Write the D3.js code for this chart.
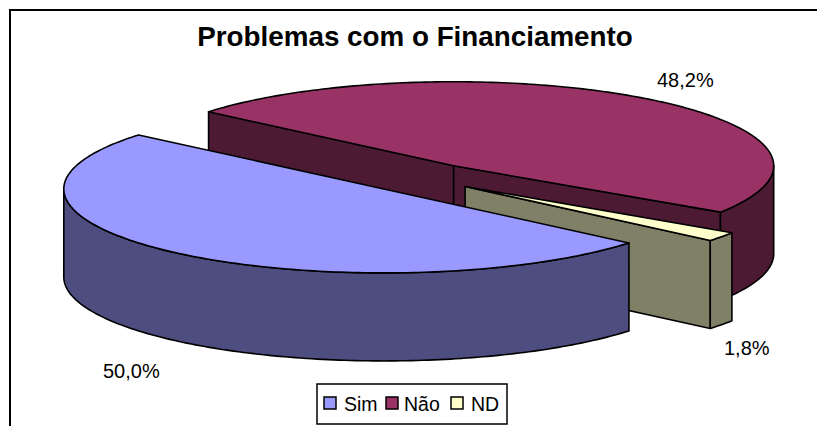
<!DOCTYPE html>
<html>
<head>
<meta charset="utf-8">
<script src="https://cdn.jsdelivr.net/npm/d3@7/dist/d3.min.js"></script>
<style>html,body{margin:0;padding:0;background:#fff}svg{display:block}text{font-family:"Liberation Sans",Arial,sans-serif;fill:#000}</style>
</head>
<body>
<svg id="c" width="817" height="426"></svg>
<script>
const titleText = "Problemas com o Financiamento";
const categories = ["Sim", "Não", "ND"];
const values = [50.0, 48.2, 1.8];
const topColors = ["#9999FF", "#993366", "#FFFFCC"];
const sideColors = ["#4D4D80", "#4D1A33", "#808066"];

const W = 817, H = 426;
const rx = 320, ry = 84, depth = 88, explode = 0.176;
const pieCx = 420, pieCy = 177.6;
const deg = Math.PI / 180;

const svg = d3.select("#c");
const sx = d3.scaleLinear().domain([-1, 1]).range([-rx, rx]);
const sy = d3.scaleLinear().domain([-1, 1]).range([-ry, ry]);

// chart frame: only the top and left edges are visible in the crop
svg.append("line").attr("x1", 9).attr("x2", W).attr("y1", 10).attr("y2", 10).attr("stroke", "#000").attr("stroke-width", 2);
svg.append("line").attr("x1", 10).attr("x2", 10).attr("y1", 10).attr("y2", H).attr("stroke", "#000").attr("stroke-width", 2);

const arcs = d3.pie().sort(null).startAngle(130 * deg).endAngle(490 * deg)(values);
const line = d3.line();
const rim = (cx, cy, a, dz = 0) => [cx + sx(Math.sin(a)), cy + sy(-Math.cos(a)) + dz];
const sample = (a0, a1) => {
  const n = Math.max(2, Math.ceil(Math.abs(a1 - a0) / (1 * deg)));
  return d3.range(n + 1).map(i => a0 + (a1 - a0) * i / n);
};

const slices = arcs.map((d, i) => {
  const mid = (d.startAngle + d.endAngle) / 2;
  return {
    i, a0: d.startAngle, a1: d.endAngle,
    cx: pieCx + sx(Math.sin(mid)) * explode,
    cy: pieCy + sy(-Math.cos(mid)) * explode
  };
});

const stroke = g => g.attr("stroke", "#000").attr("stroke-width", 1.6).attr("stroke-linejoin", "round");

function drawSlice(s) {
  const g = svg.append("g");
  const { cx, cy, a0, a1, i } = s;
  const quad = a => {
    const p = rim(cx, cy, a);
    return [[cx, cy], p, [p[0], p[1] + depth], [cx, cy + depth]];
  };
  // cut faces are drawn only when their outward normal points down the screen
  const faces = [];
  if (-Math.cos(a0 - Math.PI / 2) > 0) faces.push(quad(a0));
  if (-Math.cos(a1 + Math.PI / 2) > 0) faces.push(quad(a1));
  faces.forEach(f => g.append("path").attr("d", line(f) + "Z").attr("fill", sideColors[i]).call(stroke));
  // outer wall: parts of the rim on the front half (90°..270°, modulo 360°)
  [[90, 270], [450, 630]].forEach(([lo, hi]) => {
    const b0 = Math.max(a0, lo * deg), b1 = Math.min(a1, hi * deg);
    if (b1 <= b0) return;
    const as = sample(b0, b1);
    const pts = as.map(a => rim(cx, cy, a)).concat(as.slice().reverse().map(a => rim(cx, cy, a, depth)));
    g.append("path").attr("d", line(pts) + "Z").attr("fill", sideColors[i]).call(stroke);
  });
  // top face
  const top = [[cx, cy]].concat(sample(a0, a1).map(a => rim(cx, cy, a)));
  g.append("path").attr("d", line(top) + "Z").attr("fill", topColors[i]).call(stroke);
}

// paint back to front: Não, ND, Sim
[1, 2, 0].forEach(i => drawSlice(slices[i]));

// title
svg.append("text").attr("x", 415).attr("y", 46).attr("text-anchor", "middle")
  .attr("font-size", 27.8).attr("font-weight", "bold").text(titleText);

// data labels
const fmt = v => v.toFixed(1).replace(".", ",") + "%";
const labelAt = [[103, 378], [657, 87], [724, 355]];
values.forEach((v, i) => {
  svg.append("text").attr("x", labelAt[i][0]).attr("y", labelAt[i][1]).attr("font-size", 20).text(fmt(v));
});

// legend
const legend = svg.append("g");
legend.append("rect").attr("x", 317).attr("y", 384).attr("width", 190).attr("height", 40)
  .attr("fill", "#fff").attr("stroke", "#000").attr("stroke-width", 1.5);
const swatchX = [324, 386, 451], textX = [344, 404, 471];
categories.forEach((c, i) => {
  legend.append("rect").attr("x", swatchX[i]).attr("y", 397).attr("width", 12).attr("height", 12)
    .attr("fill", topColors[i]).attr("stroke", "#000").attr("stroke-width", 1.5);
  legend.append("text").attr("x", textX[i]).attr("y", 411).attr("font-size", 19.5).text(c);
});
</script>
</body>
</html>
